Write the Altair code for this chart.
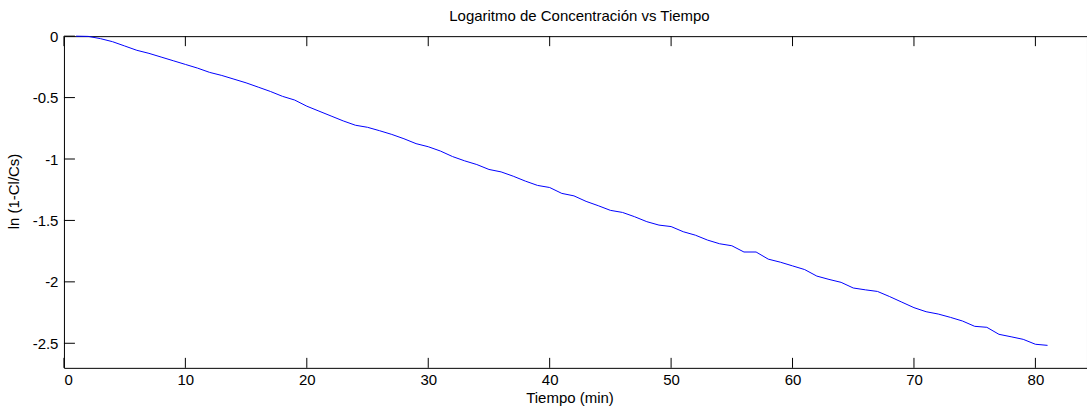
import altair as alt
import pandas as pd

# Time in minutes and ln(1 - Cl/Cs)
tiempo = list(range(1, 82))
ln_ratio = [
    0.0, -0.002, -0.02, -0.045, -0.08, -0.115, -0.14, -0.17, -0.20, -0.23,
    -0.26, -0.295, -0.32, -0.35, -0.38, -0.415, -0.45, -0.49, -0.52, -0.57,
    -0.61, -0.65, -0.69, -0.725, -0.742, -0.77, -0.80, -0.835, -0.875, -0.90,
    -0.935, -0.98, -1.015, -1.045, -1.085, -1.105, -1.14, -1.18, -1.215, -1.232,
    -1.28, -1.30, -1.345, -1.38, -1.418, -1.435, -1.47, -1.51, -1.538, -1.55,
    -1.592, -1.62, -1.66, -1.69, -1.706, -1.757, -1.757, -1.815, -1.84, -1.87,
    -1.90, -1.953, -1.98, -2.004, -2.05, -2.065, -2.078, -2.12, -2.165, -2.21,
    -2.243, -2.262, -2.289, -2.319, -2.362, -2.37, -2.427, -2.447, -2.468, -2.508,
    -2.517,
]

x_ticks = [0, 10, 20, 30, 40, 50, 60, 70, 80]
y_ticks = [0, -0.5, -1, -1.5, -2, -2.5]

W, H = 1024, 332
FONT = "Liberation Sans"
FS = 15

df = pd.DataFrame({"t": tiempo, "v": ln_ratio})
xt = pd.DataFrame({"t": x_ticks})
yt = pd.DataFrame({"v": y_ticks})

x_scale = alt.Scale(domain=[0, 84.25], nice=False, zero=False)
y_scale = alt.Scale(domain=[-2.7, 0], nice=False, zero=False)

x_axis = alt.Axis(
    values=x_ticks, grid=False, domain=False, ticks=False, labelPadding=5,
    labelFont=FONT, labelFontSize=FS, labelColor="black",
    labelExpr="toString(datum.value)",
    title="Tiempo (min)", titleFont=FONT, titleFontSize=FS,
    titleFontWeight="normal", titleColor="black", titlePadding=3, titleX=506,
)
y_axis = alt.Axis(
    values=y_ticks, grid=False, domain=False, ticks=False, labelPadding=6,
    labelFont=FONT, labelFontSize=FS, labelColor="black",
    labelExpr="toString(datum.value)",
    title="ln (1-Cl/Cs)", titleFont=FONT, titleFontSize=FS,
    titleFontWeight="normal", titleColor="black", titlePadding=11, titleY=155,
)

line = alt.Chart(df).mark_line(color="#0000ff", strokeWidth=1).encode(
    x=alt.X("t:Q", scale=x_scale, axis=x_axis),
    y=alt.Y("v:Q", scale=y_scale, axis=y_axis),
)

# Inward tick marks along the top, bottom and left edges of the box
top_ticks = alt.Chart(xt).mark_rule(color="black", strokeWidth=1).encode(
    x=alt.X("t:Q", scale=x_scale), y=alt.value(0), y2=alt.value(10)
)
bottom_ticks = alt.Chart(xt).mark_rule(color="black", strokeWidth=1).encode(
    x=alt.X("t:Q", scale=x_scale), y=alt.value(H - 10), y2=alt.value(H)
)
left_ticks = alt.Chart(yt).mark_rule(color="black", strokeWidth=1).encode(
    y=alt.Y("v:Q", scale=y_scale), x=alt.value(0), x2=alt.value(11)
)

chart = (
    alt.layer(top_ticks, bottom_ticks, left_ticks, line)
    .properties(
        width=W,
        height=H,
        title=alt.TitleParams(
            "Logaritmo de Concentración vs Tiempo", font=FONT, fontSize=FS,
            fontWeight="normal", color="black", anchor="middle", frame="group",
            dx=4, offset=5,
        ),
        autosize=alt.AutoSizeParams(type="none"),
        padding={"left": 64, "top": 36, "right": 0, "bottom": 43},
        background="white",
    )
    .configure_view(stroke="black", strokeWidth=1)
)

chart.save("out.html", embed_options={"renderer": "svg", "actions": False})
